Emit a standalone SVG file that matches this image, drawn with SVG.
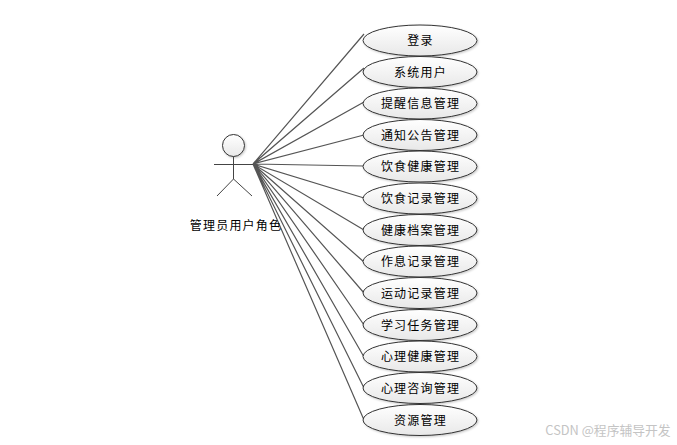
<svg xmlns="http://www.w3.org/2000/svg" width="677" height="445" viewBox="0 0 677 445">
<style>
.c{fill:none;stroke:#555;stroke-width:1.200}
.a{fill:none;stroke:#444;stroke-width:1}
.u{fill:url(#g);stroke:#333;stroke-width:1;filter:url(#s)}
text{font-family:"Noto Sans CJK SC","Liberation Sans",sans-serif;font-size:12px;fill:#000;text-anchor:middle;letter-spacing:1.200px}
.w{font-size:12.800px;fill:#c4c4c4;letter-spacing:0}
</style>
<defs>
<linearGradient id="g" x1="0" y1="0" x2="0" y2="1"><stop offset="0" stop-color="#fff"/><stop offset="1" stop-color="#e8e8e8"/></linearGradient>
<filter id="s" x="-10%" y="-20%" width="125%" height="150%"><feDropShadow dx="1" dy="1" stdDeviation="0.800" flood-color="#000" flood-opacity=".22"/></filter>
</defs>
<rect width="677" height="445" fill="#fff"/>
<g id="connectors">
<path class="c" d="M253 164L364 34M253 164L364 68M253 164L364 102M253 164L364 135M253 164L364 166M253 164L364 198M253 164L364 230M253 164L364 262M253 164L364 293M253 164L364 325M253 164L364 357M253 164L364 388M253 164L364 420"/>
</g>
<g id="actor">
<circle class="u" cx="233.500" cy="145.500" r="11"/>
<path class="a" d="M214 164.500H253M233.500 156.500V179M233.500 179L217 196M233.500 179L252 196"/>
<text x="236" y="230">管理员用户角色</text>
</g>
<g id="n1"><ellipse class="u" cx="420" cy="40.500" rx="57" ry="15.500"/><text x="420.500" y="45">登录</text></g>
<g id="n2"><ellipse class="u" cx="420" cy="72" rx="57" ry="15.500"/><text x="420.500" y="77">系统用户</text></g>
<g id="n3"><ellipse class="u" cx="420" cy="103.500" rx="57" ry="15.500"/><text x="420.500" y="108">提醒信息管理</text></g>
<g id="n4"><ellipse class="u" cx="420" cy="135" rx="57" ry="15.500"/><text x="420.500" y="140">通知公告管理</text></g>
<g id="n5"><ellipse class="u" cx="420" cy="166.500" rx="57" ry="15.500"/><text x="420.500" y="171">饮食健康管理</text></g>
<g id="n6"><ellipse class="u" cx="420" cy="198.500" rx="57" ry="15.500"/><text x="420.500" y="203">饮食记录管理</text></g>
<g id="n7"><ellipse class="u" cx="420" cy="230" rx="57" ry="15.500"/><text x="420.500" y="235">健康档案管理</text></g>
<g id="n8"><ellipse class="u" cx="420" cy="261.500" rx="57" ry="15.500"/><text x="420.500" y="266">作息记录管理</text></g>
<g id="n9"><ellipse class="u" cx="420" cy="293" rx="57" ry="15.500"/><text x="420.500" y="298">运动记录管理</text></g>
<g id="n10"><ellipse class="u" cx="420" cy="325" rx="57" ry="15.500"/><text x="420.500" y="330">学习任务管理</text></g>
<g id="n11"><ellipse class="u" cx="420" cy="356.500" rx="57" ry="15.500"/><text x="420.500" y="361">心理健康管理</text></g>
<g id="n12"><ellipse class="u" cx="420" cy="388" rx="57" ry="15.500"/><text x="420.500" y="393">心理咨询管理</text></g>
<g id="n13"><ellipse class="u" cx="420" cy="420" rx="57" ry="15.500"/><text x="420.500" y="425">资源管理</text></g>
<text class="w" x="608" y="435">CSDN @程序辅导开发</text>
</svg>
